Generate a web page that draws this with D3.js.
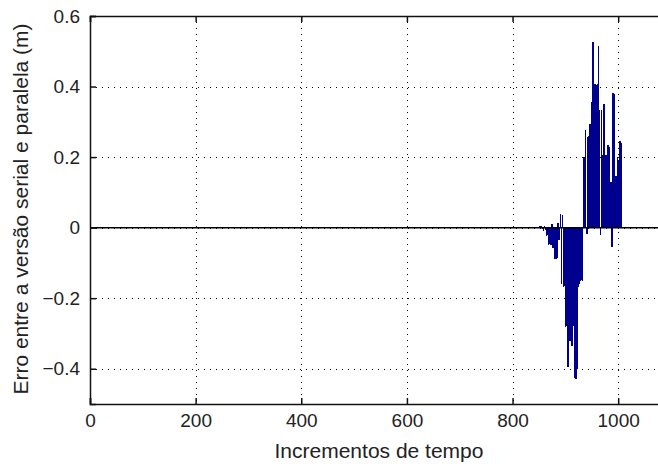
<!DOCTYPE html>
<html>
<head>
<meta charset="utf-8">
<script src="https://cdn.jsdelivr.net/npm/d3@7"></script>
<style>
    body { margin: 0; background: #fff; }
    text { font-family: "Liberation Sans", Arial, sans-serif; fill: #222; }
    .grid line { stroke: #000; stroke-width: 1; stroke-dasharray: 1,5; }
</style>
</head>
<body>
<script>
//time increments (x) and error values (y)
var steps = [850, 852, 854, 856, 858, 860, 862, 864, 866, 868, 870, 872, 874, 876, 878, 880, 882, 884, 886, 888,
    890, 892, 894, 896, 898, 900, 902, 904, 906, 908, 910, 912, 914, 916, 918, 920, 922, 924, 926, 928,
    930, 932, 934, 936, 938, 940, 942, 944, 946, 948, 950, 952, 954, 956, 958, 960, 962, 964, 966, 968,
    970, 972, 974, 976, 978, 980, 982, 984, 986, 988, 990, 992, 994, 996, 998, 1000, 1002, 1004, 1006];
var errors = [0.003, 0.004, 0.005, -0.005, -0.01, 0.006, -0.008, -0.025, -0.02, -0.05, -0.045, -0.05, 0.01, -0.057, -0.055, -0.088, -0.088, -0.085, 0.012, -0.034,
    0.04, -0.16, 0.035, -0.167, -0.165, -0.283, -0.28, -0.396, -0.3, -0.32, -0.32, -0.335, -0.26, -0.28, -0.425, -0.43, -0.4, -0.167, -0.16, -0.15,
    -0.148, -0.15, 0.2, 0.2, 0.277, -0.017, 0.258, 0.26, 0.294, 0.29, 0.357, 0.527, 0.36, 0.408, 0.405, 0.408, 0.515, 0.334, -0.02, 0.334,
    0.206, 0.351, 0.35, 0.206, 0.2, 0.235, 0.23, 0.127, 0.13, -0.055, 0.382, 0.38, 0.147, 0.145, 0.2, 0.19, 0.246, 0.245, 0.24];
var xTicks = [0, 200, 400, 600, 800, 1000];
var yTicks = [-0.4, -0.2, 0, 0.2, 0.4, 0.6];

(function(){

    var width = 658,
        height = 464,
        left = 90,
        plotTop = 16,
        plotBottom = 404,
        plotRight = 671;

    var svg = d3.select("body")
        .append("svg")
        .attr("width", width)
        .attr("height", height);

    var x = d3.scaleLinear().domain([0, 1100]).range([left, plotRight]);
    var y = d3.scaleLinear().domain([-0.5, 0.6]).range([plotBottom, plotTop]);

    //dotted grid
    var grid = svg.append("g").attr("class", "grid");
    grid.selectAll(".vx")
        .data(xTicks)
        .enter()
        .append("line")
        .attr("x1", function(d){ return Math.round(x(d)) + 0.5; })
        .attr("x2", function(d){ return Math.round(x(d)) + 0.5; })
        .attr("y1", plotTop)
        .attr("y2", plotBottom);
    grid.selectAll(".hy")
        .data(yTicks)
        .enter()
        .append("line")
        .attr("x1", left)
        .attr("x2", plotRight)
        .attr("y1", function(d){ return Math.round(y(d)) + 0.5; })
        .attr("y2", function(d){ return Math.round(y(d)) + 0.5; });

    //bars, slightly overlapping so the dense block stays solid
    var barW = x(2) - x(0);
    svg.selectAll(".bar")
        .data(steps)
        .enter()
        .append("rect")
        .attr("class", "bar")
        .attr("x", function(d){ return x(d) - barW / 2; })
        .attr("width", barW + 0.5)
        .attr("y", function(d, i){ return Math.min(y(errors[i]), y(0)); })
        .attr("height", function(d, i){ return Math.abs(y(errors[i]) - y(0)); })
        .attr("shape-rendering", "crispEdges")
        .style("fill", "#00008f");

    //zero baseline
    svg.append("line")
        .attr("x1", left)
        .attr("x2", plotRight)
        .attr("y1", y(0))
        .attr("y2", y(0))
        .style("stroke", "#000")
        .style("stroke-width", 1.5);

    //axes with inward ticks
    var xAxis = d3.axisBottom(x).tickValues(xTicks).tickSize(-6).tickPadding(10).tickFormat(d3.format("d"));
    var yAxis = d3.axisLeft(y).tickValues(yTicks).tickSize(-6).tickPadding(10)
        .tickFormat(function(d){ return d === 0 ? "0" : d3.format(".1f")(d); });

    var gx = svg.append("g")
        .attr("transform", "translate(0," + plotBottom + ")")
        .call(xAxis);
    var gy = svg.append("g")
        .attr("transform", "translate(" + left + ",0)")
        .call(yAxis);
    var gxTop = svg.append("g")
        .attr("transform", "translate(0," + plotTop + ")")
        .call(d3.axisTop(x).tickValues(xTicks).tickSize(-6).tickFormat(""));

    [gx, gy, gxTop].forEach(function(g){
        g.select(".domain").style("stroke", "#111").style("stroke-width", 1.5);
        g.selectAll(".tick line").style("stroke", "#111").style("stroke-width", 1.5);
        g.selectAll("text").style("font-size", "19px").style("fill", "#222");
    });

    //axis titles
    svg.append("text")
        .attr("x", 379)
        .attr("y", 458)
        .attr("text-anchor", "middle")
        .style("font-size", "21px")
        .text("Incrementos de tempo");

    svg.append("text")
        .attr("transform", "translate(28,209) rotate(-90)")
        .attr("text-anchor", "middle")
        .style("font-size", "21px")
        .text("Erro entre a versão serial e paralela (m)");

})();
</script>
</body>
</html>
